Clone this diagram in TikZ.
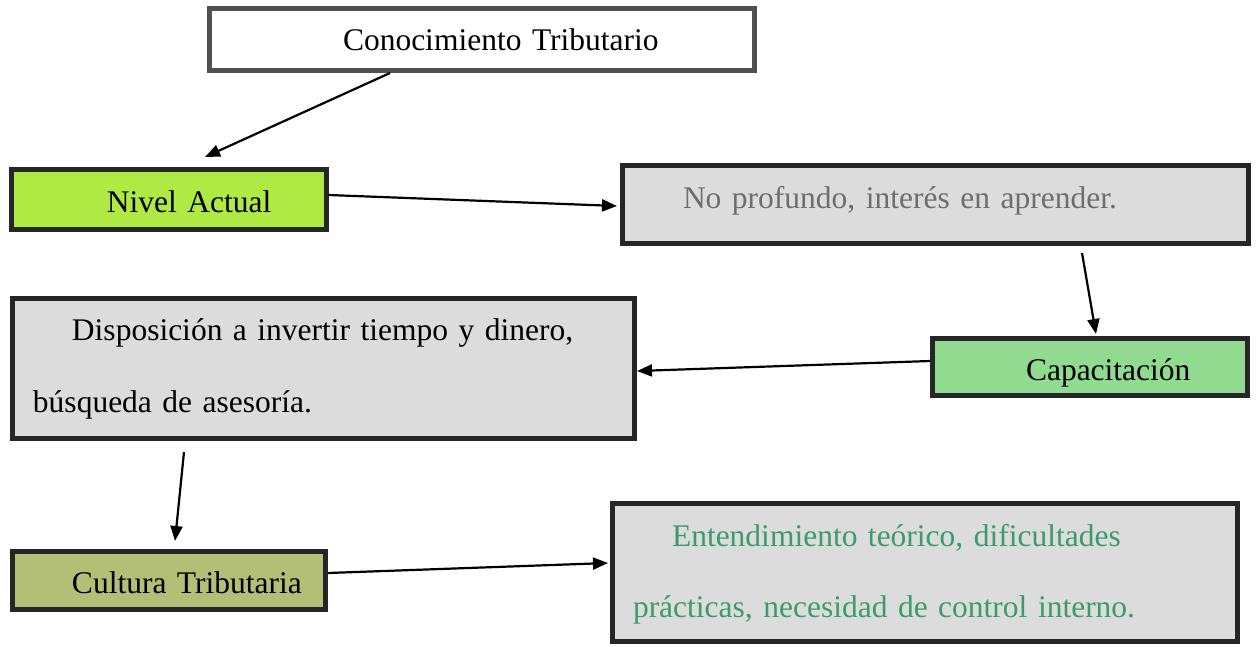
\documentclass[tikz,border=0pt]{standalone}
\usepackage{fontspec}
\setmainfont{Liberation Serif}
\usetikzlibrary{arrows.meta}
\definecolor{boxgray}{HTML}{DCDCDC}
\definecolor{limefill}{HTML}{AFEA44}
\definecolor{greenfill}{HTML}{90DB8F}
\definecolor{olivefill}{HTML}{B3BE77}
\definecolor{graytext}{HTML}{6E6E6E}
\definecolor{greentext}{HTML}{3A9C6B}
\definecolor{darkborder}{HTML}{262626}
\definecolor{topborder}{HTML}{505050}
\begin{document}
\begin{tikzpicture}[x=1pt,y=-1pt,
  box/.style={draw=darkborder, line width=5pt, rectangle, anchor=north west,
    inner sep=0pt, align=left,
    font=\fontsize{31.5}{72}\selectfont},
  conn/.style={line width=2.2pt, -{Triangle[length=15pt,width=12pt]}}]
\useasboundingbox (0,0) rectangle (1256,646);
\fill[white] (0,0) rectangle (1256,646);

\node[box, draw=topborder, fill=white, text width=545pt, text height=41.5pt, text depth=20.5pt]
  (A) at (207,6) {\hspace*{133.5pt}Conocimiento Tributario};
\node[box, fill=limefill, text width=314.5pt, text height=42.5pt, text depth=17.5pt]
  (B) at (9,167) {\hspace*{95.5pt}Nivel Actual};
\node[box, fill=boxgray, text=graytext, text width=626pt, text height=42.5pt, text depth=35.5pt]
  (C) at (620,163) {\hspace*{60.5pt}No profundo, interés en aprender.};
\node[box, fill=greenfill, text width=315pt, text height=41.5pt, text depth=15.5pt]
  (D) at (930,336) {\hspace*{93.5pt}Capacitación};
\node[box, fill=boxgray, text width=622pt, text height=41.5pt, text depth=98.5pt]
  (E) at (10,296) {\hspace*{59.5pt}Disposición a invertir tiempo y dinero,\\\hspace*{20.5pt}búsqueda de asesoría.};
\node[box, fill=olivefill, text width=313pt, text height=41.5pt, text depth=16.5pt]
  (F) at (10,549) {\hspace*{59.5pt}Cultura Tributaria};
\node[box, fill=boxgray, text=greentext, text width=625pt, text height=42.5pt, text depth=95.5pt,
  font=\fontsize{31.5}{71}\selectfont]
  (G) at (610,501) {\hspace*{59.5pt}Entendimiento teórico, dificultades\\\hspace*{20.5pt}prácticas, necesidad de control interno.};

\draw[conn] ([xshift=183pt]A.south west) -- ([xshift=196pt,yshift=10pt]B.north west);
\draw[conn] ([yshift=4.5pt]B.east) -- ([xshift=-3pt,yshift=-1.5pt]C.west);
\draw[conn] ([xshift=462pt,yshift=-7pt]C.south west) -- ([xshift=166pt,yshift=2pt]D.north west);
\draw[conn] ([yshift=6pt]D.west) -- ([yshift=-2.5pt]E.east);
\draw[conn] ([xshift=174pt,yshift=-11pt]E.south west) -- ([xshift=165pt,yshift=8pt]F.north west);
\draw[conn] ([yshift=7.5pt]F.east) -- ([xshift=-2pt,yshift=9.5pt]G.west);
\end{tikzpicture}
\end{document}
